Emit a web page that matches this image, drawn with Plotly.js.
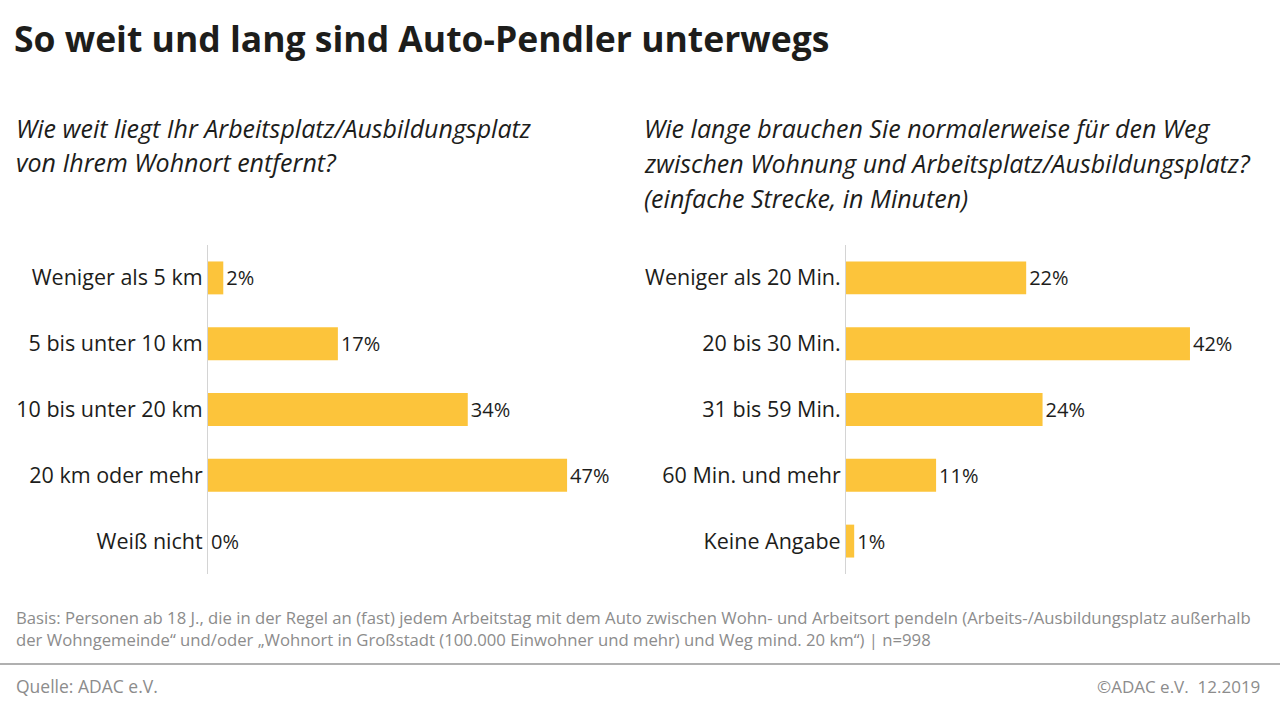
<!DOCTYPE html>
<html><head><meta charset="utf-8">
<script src="https://cdn.plot.ly/plotly-3.0.1.min.js"></script>
<style>html,body{margin:0;padding:0;background:#fff;}#chart{width:1280px;height:720px;}</style>
</head><body><div id="chart"></div>
<script>
const distCategories = ["Weniger als 5 km","5 bis unter 10 km","10 bis unter 20 km","20 km oder mehr","Weiß nicht"];
const distValues = [2,17,34,47,0];
const timeCategories = ["Weniger als 20 Min.","20 bis 30 Min.","31 bis 59 Min.","60 Min. und mehr","Keine Angabe"];
const timeValues = [22,42,24,11,1];
const leftQuestion = ["Wie weit liegt Ihr Arbeitsplatz/Ausbildungsplatz","von Ihrem Wohnort entfernt?"];
const rightQuestion = ["Wie lange brauchen Sie normalerweise für den Weg","zwischen Wohnung und Arbeitsplatz/Ausbildungsplatz?","(einfache Strecke, in Minuten)"];

const barColor = "#FCC43B";
const txt = "#1d1d1b";
const fam = "Open Sans, Noto Sans, sans-serif";

function barTrace(cats, vals, xa, ya){
  return {type:"bar", orientation:"h", y:cats, x:vals, xaxis:xa, yaxis:ya,
    marker:{color:barColor}, width:0.5,
    text: vals.map(v=>v+"%"), textposition:"outside", cliponaxis:false,
    textfont:{family:fam, size:20, color:txt, weight:500}, hoverinfo:"skip"};
}
const data = [barTrace(distCategories, distValues, "x", "y"), barTrace(timeCategories, timeValues, "x2", "y2")];

const yCommon = {type:"category", autorange:"reversed", showline:true, linecolor:"#d4d4d4", linewidth:1,
  showgrid:false, zeroline:false, ticks:"", ticklabelstandoff:0,
  tickfont:{family:fam, size:21.5, color:txt, weight:500}, domain:[0.2028,0.6597], fixedrange:true};
const xCommon = {range:[0,50], visible:false, showgrid:false, zeroline:false};

const annotations = [];
function qLine(t, x, yPx){
  annotations.push({text:"<i>"+t+"</i>", xref:"paper", yref:"paper", x:x/1280, y:1-yPx/720,
    xanchor:"left", yanchor:"middle", align:"left", showarrow:false,
    font:{family:fam, size:25, color:txt, weight:500}});
}
leftQuestion.forEach((t,i)=>qLine(t, 14, 128+i*34.5));
rightQuestion.forEach((t,i)=>qLine(t, 642, 128+i*35));
annotations.push(
    {text:"Basis: Personen ab 18 J., die in der Regel an (fast) jedem Arbeitstag mit dem Auto zwischen Wohn- und Arbeitsort pendeln (Arbeits-/Ausbildungsplatz außerhalb<br>der Wohngemeinde“ und/oder „Wohnort in Großstadt (100.000 Einwohner und mehr) und Weg mind. 20 km“) | n=998",
     xref:"paper", yref:"paper", x:14/1280, y:1-604/720, xanchor:"left", yanchor:"top", align:"left", showarrow:false,
     font:{family:fam, size:16.7, color:"#8c8c8c"}},
    {text:"Quelle: ADAC e.V.", xref:"paper", yref:"paper", x:14/1280, y:1-686/720, xanchor:"left", yanchor:"middle", showarrow:false,
     font:{family:fam, size:17.5, color:"#8c8c8c"}},
    {text:"©ADAC e.V.  12.2019", xref:"paper", yref:"paper", x:1262/1280, y:1-686/720, xanchor:"right", yanchor:"middle", showarrow:false,
     font:{family:fam, size:17, color:"#8c8c8c"}}
);

const layout = {
  width:1280, height:720, margin:{l:0,r:0,t:0,b:0},
  paper_bgcolor:"#ffffff", plot_bgcolor:"rgba(0,0,0,0)", showlegend:false, bargap:0.5,
  xaxis: Object.assign({}, xCommon, {domain:[208/1280, 590/1280], anchor:"y"}),
  yaxis: Object.assign({}, yCommon, {anchor:"x"}),
  xaxis2: Object.assign({}, xCommon, {domain:[846/1280, 1255.5/1280], anchor:"y2"}),
  yaxis2: Object.assign({}, yCommon, {anchor:"x2"}),
  title:{text:"<b>So weit und lang sind Auto-Pendler unterwegs</b>", x:14/1280, xanchor:"left", xref:"paper",
    y:1-40/720, yanchor:"middle", yref:"container", font:{family:fam, size:35.5, color:txt}},
  annotations: annotations,
  shapes:[
    {type:"line", xref:"paper", yref:"paper", x0:0, x1:1, y0:1-664/720, y1:1-664/720, line:{color:"#b0b0b0", width:2}}
  ]
};
Plotly.newPlot("chart", data, layout, {displayModeBar:false, staticPlot:true});
</script></body></html>
